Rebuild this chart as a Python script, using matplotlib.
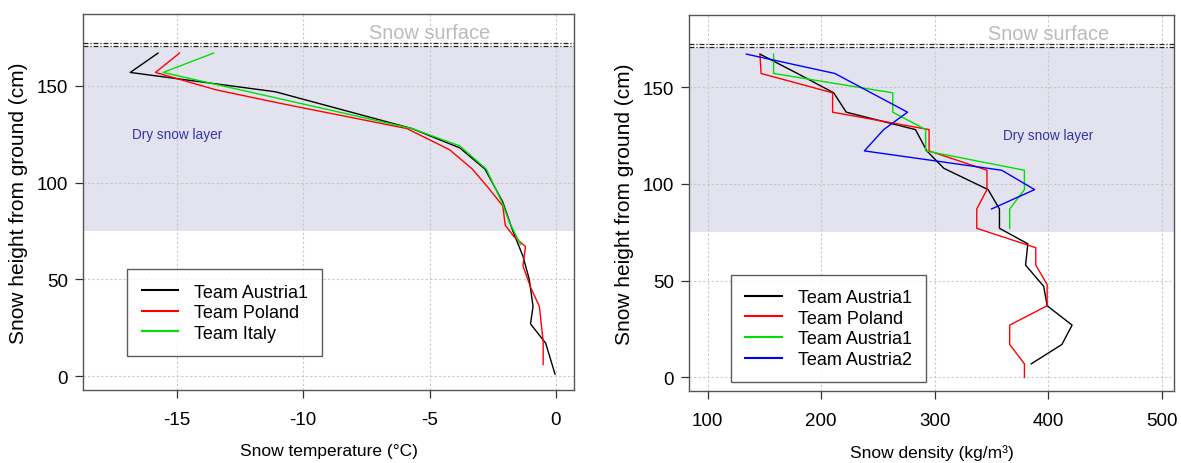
import matplotlib
matplotlib.use("Agg")
import matplotlib.pyplot as plt

plt.rcParams['font.family'] = ['Liberation Sans', 'DejaVu Sans']
plt.rcParams['axes.unicode_minus'] = False

# ---- Left panel: snow temperature ----
temp_austria1 = [-15.75, -16.85, -11.1, -5.7, -3.8, -2.8, -2.1, -1.7, -1.3, -1.05, -0.9, -1.0, -0.4, -0.03]
h_temp_austria1 = [167, 157, 147, 128, 118, 107, 90, 75, 62, 50, 36, 27, 17, 1]
temp_poland = [-14.9, -15.85, -13.45, -10.9, -5.9, -4.2, -3.3, -2.65, -2.1, -2.0, -1.65, -1.2, -1.3, -1.0, -0.65, -0.5, -0.5]
h_temp_poland = [167, 157, 148, 141, 128, 117, 107, 97, 88, 78, 72, 67, 57, 46, 36, 18, 6]
temp_italy = [-13.55, -15.55, -5.7, -3.8, -2.75, -2.1, -1.85, -1.4]
h_temp_italy = [167, 157, 128, 119, 107, 89, 80, 68]

# ---- Right panel: snow density ----
dens_austria1 = [146, 179, 211, 222, 283, 293, 308, 347, 357, 357, 382, 380, 396, 399, 421, 412, 385]
h_dens_austria1 = [167, 157, 147, 137, 128, 117, 108, 97, 87, 77, 69, 58, 47, 37, 27, 17, 7]
dens_poland = [146, 147, 210, 210, 295, 295, 346, 346, 337, 337, 389, 389, 399, 399, 366, 366, 379, 379]
h_dens_poland = [167, 157, 147, 137, 128, 117, 107, 97, 87, 77, 67, 58, 48, 37, 27, 17, 7, 0]
dens_austria1b = [158, 158, 263, 263, 292, 292, 379, 379, 366, 366]
h_dens_austria1b = [167, 157, 147, 137, 128, 117, 107, 97, 87, 77]
dens_austria2 = [134, 212, 244, 276, 255, 238, 359, 388, 350]
h_dens_austria2 = [167, 157, 147, 137, 128, 117, 107, 97, 87]

left_labels = ["Team Austria1", "Team Poland", "Team Italy"]
right_labels = ["Team Austria1", "Team Poland", "Team Austria1", "Team Austria2"]

dry_bottom, dry_top = 75, 170
surface_levels = [170.6, 172.2]

fig = plt.figure(figsize=(11.81, 4.64), dpi=100)
ax1 = fig.add_axes([0.0703, 0.1573, 0.4157, 0.8103])
ax2 = fig.add_axes([0.5837, 0.1545, 0.4104, 0.8110])

shade = '#E3E3EF'
spine_col = '#555555'
grid_kw = dict(color='#C8C8C8', linestyle=(0, (2, 2)), linewidth=0.8)

def style(ax, xlim, xticks, xlabel):
    ax.set_xlim(*xlim)
    ax.set_ylim(-7.2, 187.2)
    ax.axhspan(dry_bottom, dry_top, color=shade, zorder=0, lw=0)
    ax.set_xticks(xticks)
    ax.set_yticks([0, 50, 100, 150])
    for x in xticks:
        ax.axvline(x, zorder=1, **grid_kw)
    for y in [0, 50, 100, 150]:
        ax.axhline(y, zorder=1, **grid_kw)
    for lv in surface_levels:
        ax.axhline(lv, color='#222222', linewidth=0.9, linestyle=(0, (4, 1.5, 1, 1.5)), zorder=2)
    for s in ax.spines.values():
        s.set_color(spine_col)
        s.set_linewidth(1.0)
    ax.tick_params(direction='out', length=6, width=0.9, color='#333333',
                   labelsize=13.5)
    ax.tick_params(axis='x', pad=9)
    ax.tick_params(axis='y', pad=5)
    ax.set_xlabel(xlabel, fontsize=12.5, labelpad=11)
    ax.set_ylabel("Snow height from ground (cm)", fontsize=15, labelpad=6)

style(ax1, (-18.72, 0.72), [-15, -10, -5, 0], "Snow temperature (°C)")
style(ax2, (83.8, 510.8), [100, 200, 300, 400, 500], "Snow density (kg/m³)")

lw = 1.0
l1, = ax1.plot(temp_austria1, h_temp_austria1, color='black', lw=lw, zorder=3)
l2, = ax1.plot(temp_poland, h_temp_poland, color='#FF0000', lw=lw, zorder=3)
l3, = ax1.plot(temp_italy, h_temp_italy, color='#00E000', lw=lw, zorder=3)

r1, = ax2.plot(dens_austria1, h_dens_austria1, color='black', lw=lw, zorder=3)
r2, = ax2.plot(dens_poland, h_dens_poland, color='#FF0000', lw=lw, zorder=3)
r3, = ax2.plot(dens_austria1b, h_dens_austria1b, color='#00E000', lw=lw, zorder=3)
r4, = ax2.plot(dens_austria2, h_dens_austria2, color='#0000FF', lw=lw, zorder=3)

ax1.text(-5.0, 177.5, "Snow surface", color='#BBBBBB', fontsize=14.4, ha='center', va='center')
ax2.text(400, 177.5, "Snow surface", color='#BBBBBB', fontsize=14.4, ha='center', va='center')
ax1.text(-15.0, 125, "Dry snow layer", color='#3333AA', fontsize=9.8, ha='center', va='center')
ax2.text(400, 125, "Dry snow layer", color='#3333AA', fontsize=9.8, ha='center', va='center')

leg_kw = dict(fontsize=13, frameon=True, fancybox=False, edgecolor='#333333',
              borderpad=0.8, labelspacing=0.2, handlelength=2.0, handletextpad=0.9,
              borderaxespad=0)
lg1 = ax1.legend([l1, l2, l3], left_labels, loc='lower left',
                 bbox_to_anchor=(0.09, 0.09), **leg_kw)
lg2 = ax2.legend([r1, r2, r3, r4], right_labels, loc='lower left',
                 bbox_to_anchor=(0.086, 0.024), **leg_kw)
for lg in (lg1, lg2):
    lg.get_frame().set_linewidth(1.0)
    lg.set_zorder(5)
    for h in lg.legend_handles:
        h.set_linewidth(1.5)

fig.savefig("out.png", dpi=100)
